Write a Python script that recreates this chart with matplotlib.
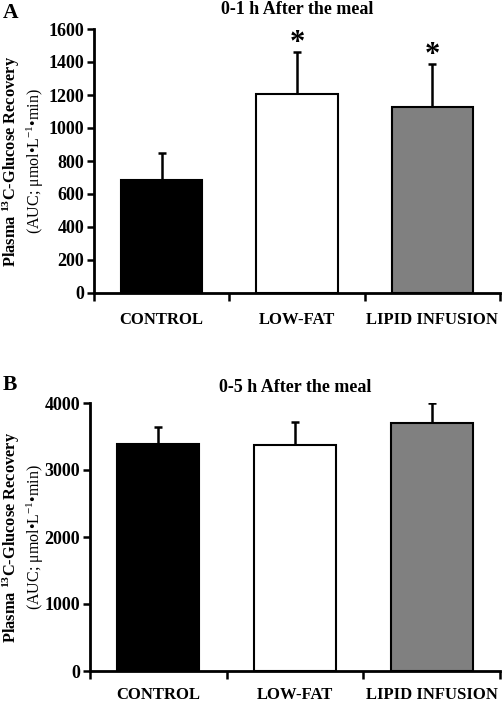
import matplotlib
matplotlib.use("Agg")
import matplotlib.pyplot as plt

plt.rcParams['font.family'] = ['Liberation Serif', 'DejaVu Serif']
plt.rcParams['mathtext.fontset'] = 'custom'
plt.rcParams['mathtext.rm'] = 'Liberation Serif'
plt.rcParams['mathtext.bf'] = 'Liberation Serif:bold'
plt.rcParams['mathtext.it'] = 'Liberation Serif:italic'

categories = ["CONTROL", "LOW-FAT", "LIPID INFUSION"]
colors = ["#000000", "#ffffff", "#808080"]

a_values = [685, 1205, 1130]
a_errors = [165, 255, 255]
a_stars = [None, "*", "*"]
a_yticks = [0, 200, 400, 600, 800, 1000, 1200, 1400, 1600]

b_values = [3385, 3375, 3700]
b_errors = [255, 340, 305]
b_yticks = [0, 1000, 2000, 3000, 4000]

fig = plt.figure(figsize=(5.04, 7.02), dpi=100)

def panel(rect, values, errors, yticks, title, title_pad, xpad, letter, letter_y):
    ax = fig.add_axes(rect)
    x = list(range(len(categories)))
    ax.bar(x, values, width=0.6, color=colors, edgecolor='black', linewidth=1.5, zorder=2)
    ax.errorbar(x, values, yerr=[[0]*len(errors), errors], fmt='none', ecolor='black',
                elinewidth=1.8, capsize=3, capthick=1.8, zorder=1)
    ax.set_xlim(-0.5, 2.5)
    ax.set_ylim(0, yticks[-1])
    ax.set_yticks(yticks)
    ax.set_yticklabels([str(t) for t in yticks], fontsize=13, fontweight='bold')
    ax.set_xticks([-0.5, 0.5, 1.5, 2.5])
    ax.set_xticklabels([])
    ax.set_xticks(x, minor=True)
    ax.set_xticklabels(categories, minor=True, fontsize=12, fontweight='bold')
    ax.tick_params(axis='x', which='minor', length=0, pad=xpad)
    ax.tick_params(axis='x', which='major', length=6, width=1.8, direction='out')
    ax.tick_params(axis='y', length=5, width=1.8, direction='out', pad=2)
    for s in ['top', 'right']:
        ax.spines[s].set_visible(False)
    for s in ['left', 'bottom']:
        ax.spines[s].set_linewidth(2)
    ax.set_title(title, fontsize=13, fontweight='bold', pad=title_pad)
    fig.text(0.006, letter_y, letter, fontsize=15.5, fontweight='bold', va='center', ha='left')
    cy = rect[1] + rect[3] / 2
    fig.text(0.022, cy, r"Plasma $^{\mathbf{13}}$C-Glucose Recovery", rotation=90,
             fontsize=11.8, fontweight='bold', va='center', ha='center')
    fig.text(0.0705, cy, r"(AUC; μmol•L$^{-1}$•min)", rotation=90,
             fontsize=11.5, va='center', ha='center')
    return ax

axA = panel([94/504, 1-293/702, 406/504, 264/702], a_values, a_errors, a_yticks,
            "0-1 h After the meal", 11, 13.5, "A", 1-13/702)
for i, s in enumerate(a_stars):
    if s:
        axA.annotate(s, xy=(i, a_values[i] + a_errors[i]), xytext=(0, -4),
                     textcoords='offset points', ha='center', va='bottom',
                     fontsize=22, fontweight='bold')

axB = panel([90/504, 1-671/702, 410/504, 268/702], b_values, b_errors, b_yticks,
            "0-5 h After the meal", 8, 11.5, "B", 1-385/702)

fig.savefig("out.png", dpi=100)
